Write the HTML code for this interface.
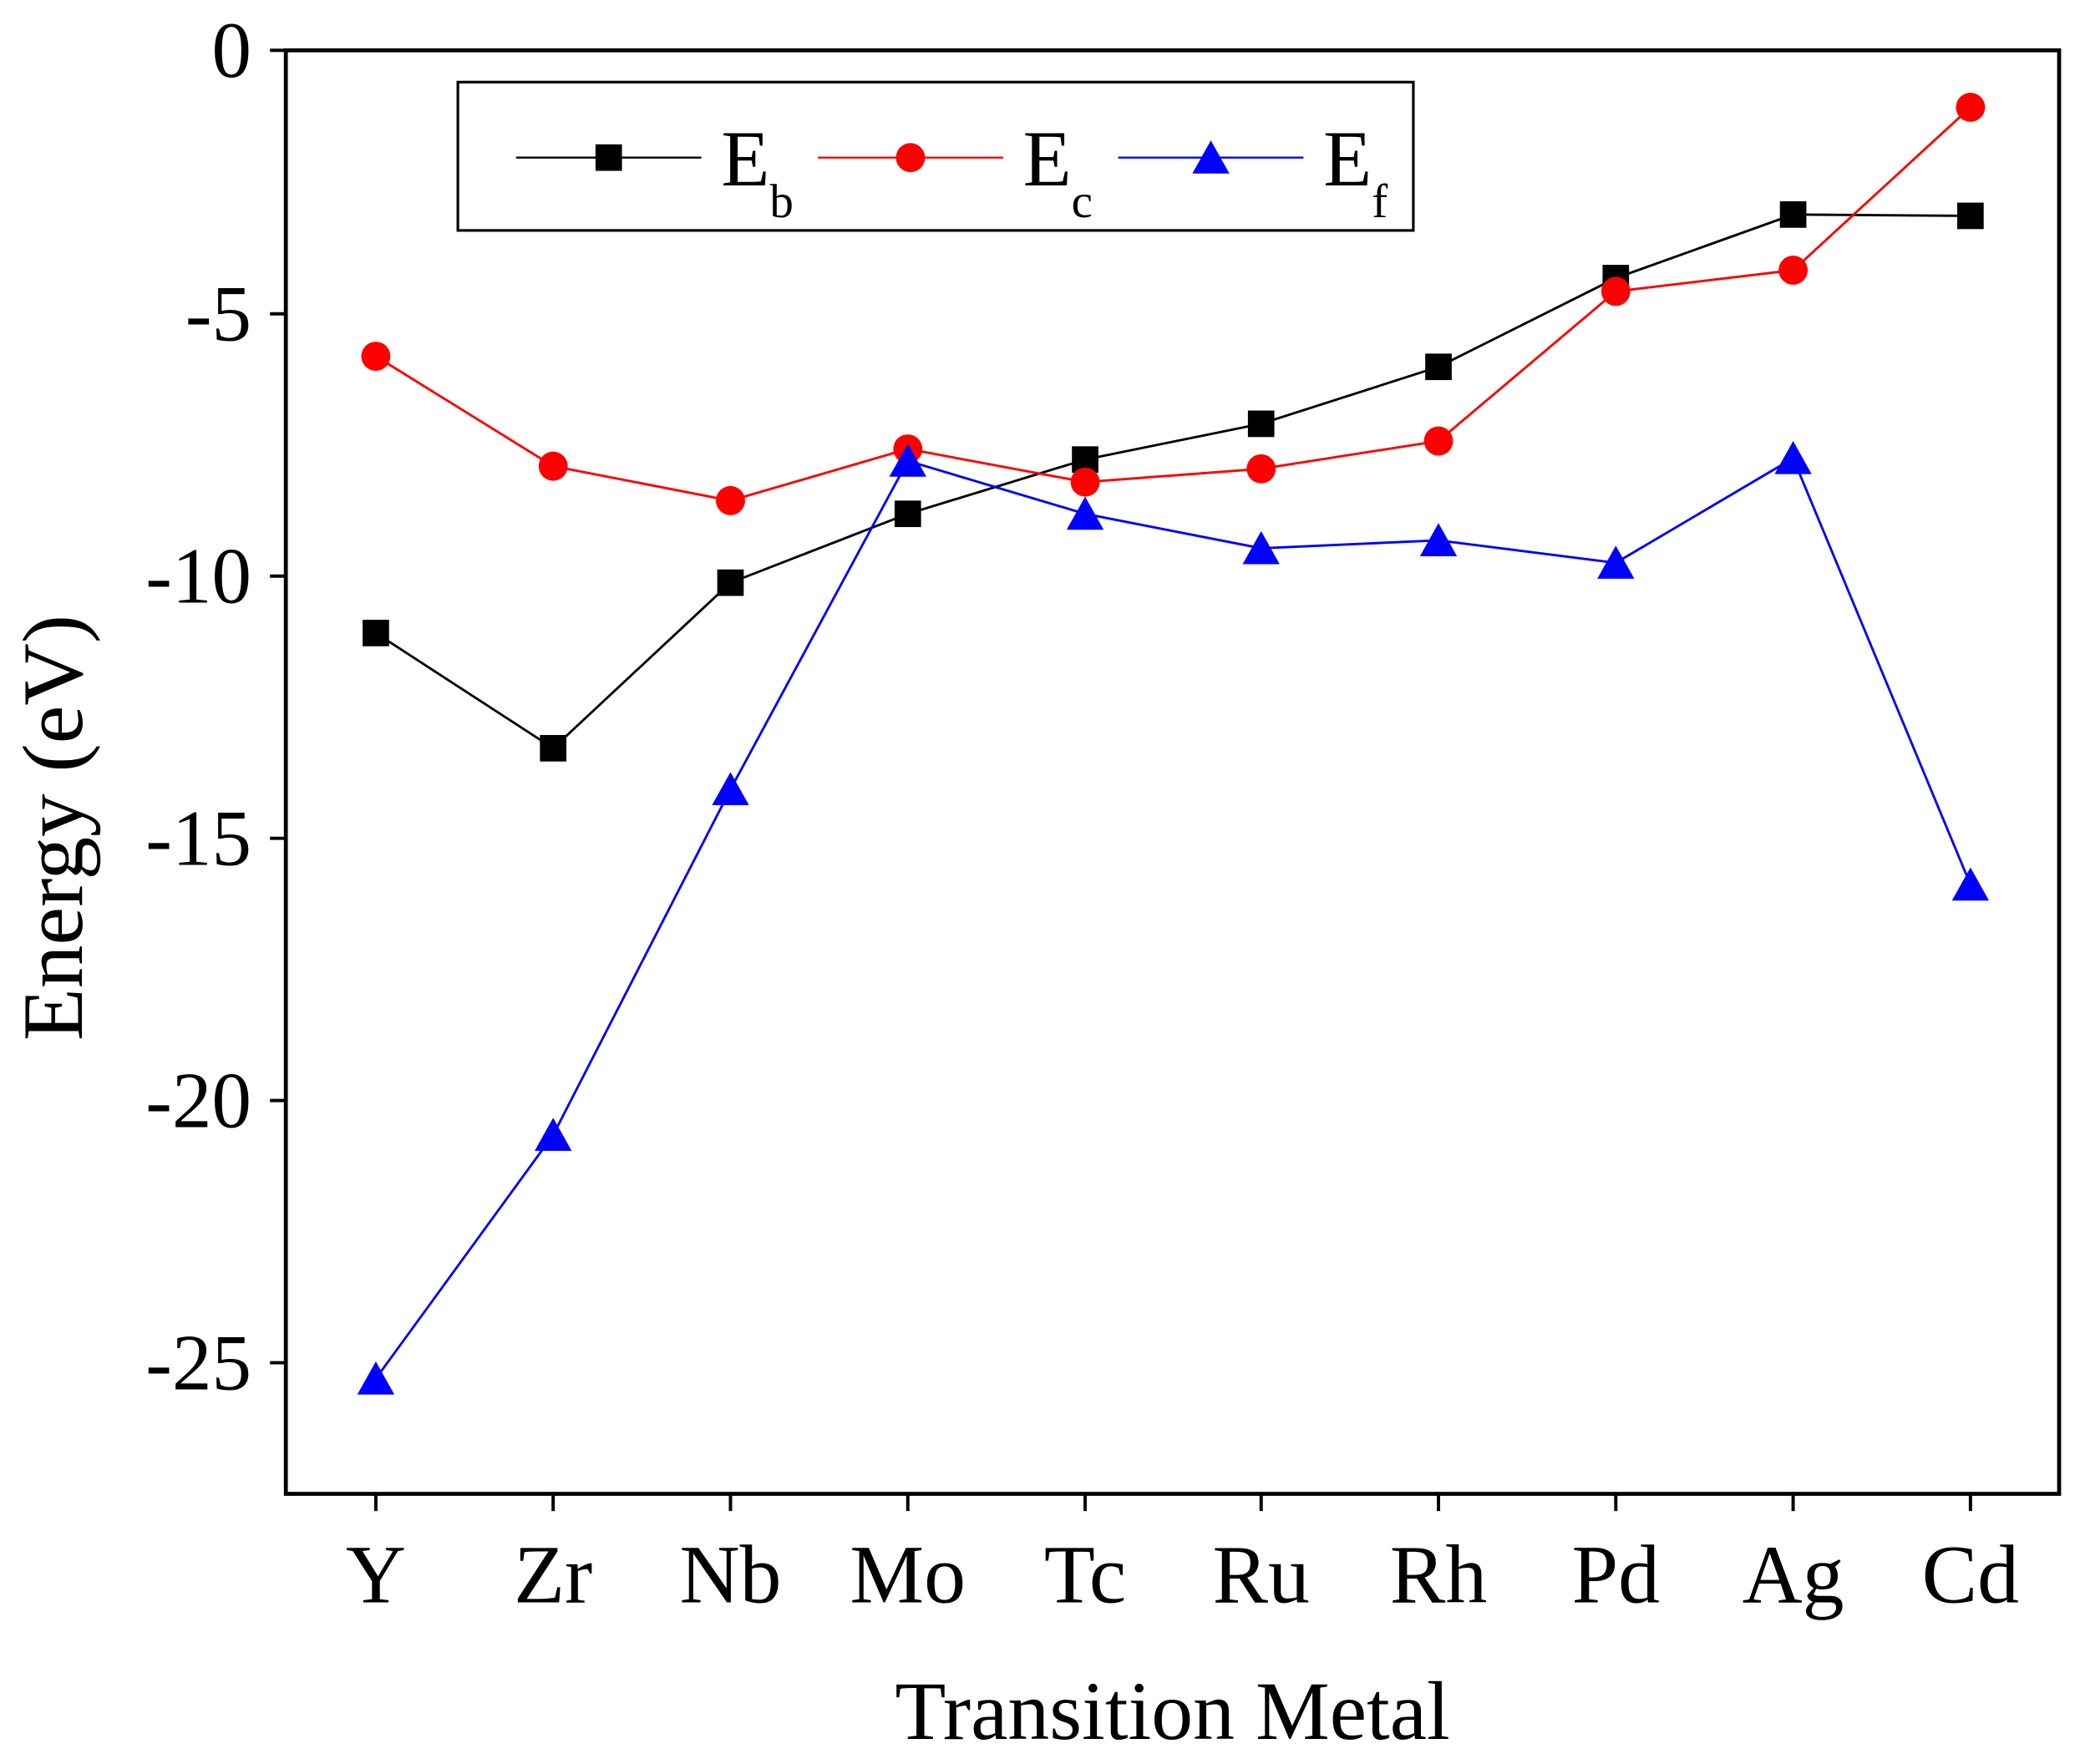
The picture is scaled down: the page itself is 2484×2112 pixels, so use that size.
<!DOCTYPE html>
<html><head><style>html,body{margin:0;padding:0;background:#fff}svg{display:block}</style></head>
<body>
<svg width="2484" height="2112" viewBox="0 0 1568 1332" preserveAspectRatio="none" xmlns="http://www.w3.org/2000/svg" font-family="Liberation Serif, serif">
<rect x="216" y="38" width="1340" height="1090" fill="none" stroke="#000" stroke-width="3"/>
<g stroke="#000" stroke-width="2.5">
<line x1="204" y1="38" x2="216" y2="38"/><line x1="204" y1="237" x2="216" y2="237"/><line x1="204" y1="435" x2="216" y2="435"/><line x1="204" y1="633" x2="216" y2="633"/><line x1="204" y1="831" x2="216" y2="831"/><line x1="204" y1="1029" x2="216" y2="1029"/>
<line x1="284" y1="1128" x2="284" y2="1141"/><line x1="418" y1="1128" x2="418" y2="1141"/><line x1="552" y1="1128" x2="552" y2="1141"/><line x1="686" y1="1128" x2="686" y2="1141"/><line x1="820" y1="1128" x2="820" y2="1141"/><line x1="953" y1="1128" x2="953" y2="1141"/><line x1="1087" y1="1128" x2="1087" y2="1141"/><line x1="1221" y1="1128" x2="1221" y2="1141"/><line x1="1355" y1="1128" x2="1355" y2="1141"/><line x1="1489" y1="1128" x2="1489" y2="1141"/>
</g>
<g font-size="60" text-anchor="end">
<text x="190" y="58">0</text><text x="190" y="257">-5</text><text x="190" y="455">-10</text><text x="190" y="653">-15</text><text x="190" y="851">-20</text><text x="190" y="1049">-25</text>
</g>
<g font-size="63" text-anchor="middle">
<text x="284" y="1210">Y</text><text x="418" y="1210">Zr</text><text x="552" y="1210">Nb</text><text x="686" y="1210">Mo</text><text x="820" y="1210">Tc</text><text x="953" y="1210">Ru</text><text x="1087" y="1210">Rh</text><text x="1221" y="1210">Pd</text><text x="1355" y="1210">Ag</text><text x="1489" y="1210">Cd</text>
<text x="886" y="1313" font-size="63">Transition Metal</text>
<text transform="translate(62,625) rotate(-90)" font-size="65">Energy (eV)</text>
</g>
<polyline fill="none" stroke="#000" stroke-width="1.8" points="284,478 418,565 552,440 686,388 820,347 953,320 1087,277 1221,210 1355,162 1489,163"/>
<polyline fill="none" stroke="#f00" stroke-width="1.8" points="284,269 418,352 552,378 686,339 820,364 953,354 1087,333 1221,220 1355,204 1489,81"/>
<polyline fill="none" stroke="#00f" stroke-width="1.8" points="284,1041 418,857 552,596 686,348 820,388 953,414 1087,408 1221,425 1355,346 1489,668"/>
<g fill="#000">
<rect x="274" y="468" width="20" height="20"/><rect x="408" y="555" width="20" height="20"/><rect x="542" y="430" width="20" height="20"/><rect x="676" y="378" width="20" height="20"/><rect x="810" y="337" width="20" height="20"/><rect x="943" y="310" width="20" height="20"/><rect x="1077" y="267" width="20" height="20"/><rect x="1211" y="200" width="20" height="20"/><rect x="1345" y="152" width="20" height="20"/><rect x="1479" y="153" width="20" height="20"/>
</g>
<g fill="#f00">
<circle cx="284" cy="269" r="11"/><circle cx="418" cy="352" r="11"/><circle cx="552" cy="378" r="11"/><circle cx="686" cy="339" r="11"/><circle cx="820" cy="364" r="11"/><circle cx="953" cy="354" r="11"/><circle cx="1087" cy="333" r="11"/><circle cx="1221" cy="220" r="11"/><circle cx="1355" cy="204" r="11"/><circle cx="1489" cy="81" r="11"/>
</g>
<g fill="#00f">
<path d="M284,1028 l14,25 h-28z"/><path d="M418,844 l14,25 h-28z"/><path d="M552,583 l14,25 h-28z"/><path d="M686,335 l14,25 h-28z"/><path d="M820,375 l14,25 h-28z"/><path d="M953,401 l14,25 h-28z"/><path d="M1087,395 l14,25 h-28z"/><path d="M1221,412 l14,25 h-28z"/><path d="M1355,333 l14,25 h-28z"/><path d="M1489,655 l14,25 h-28z"/>
</g>
<rect x="346" y="62" width="722" height="112" fill="#fff" stroke="#000" stroke-width="2"/>
<line x1="390" y1="119" x2="530" y2="119" stroke="#000" stroke-width="1.5"/><rect x="450" y="109" width="20" height="20" fill="#000"/>
<line x1="618" y1="119" x2="758" y2="119" stroke="#f00" stroke-width="1.5"/><circle cx="688" cy="119" r="11" fill="#f00"/>
<line x1="845" y1="119" x2="985" y2="119" stroke="#00f" stroke-width="1.5"/><path d="M915,106 l14,25 h-28z" fill="#00f"/>
<g font-size="60"><text x="545" y="140">E<tspan font-size="36" dy="24">b</tspan></text><text x="773" y="140">E<tspan font-size="36" dy="24">c</tspan></text><text x="1000" y="140">E<tspan font-size="36" dy="24">f</tspan></text></g>
</svg>
</body></html>
